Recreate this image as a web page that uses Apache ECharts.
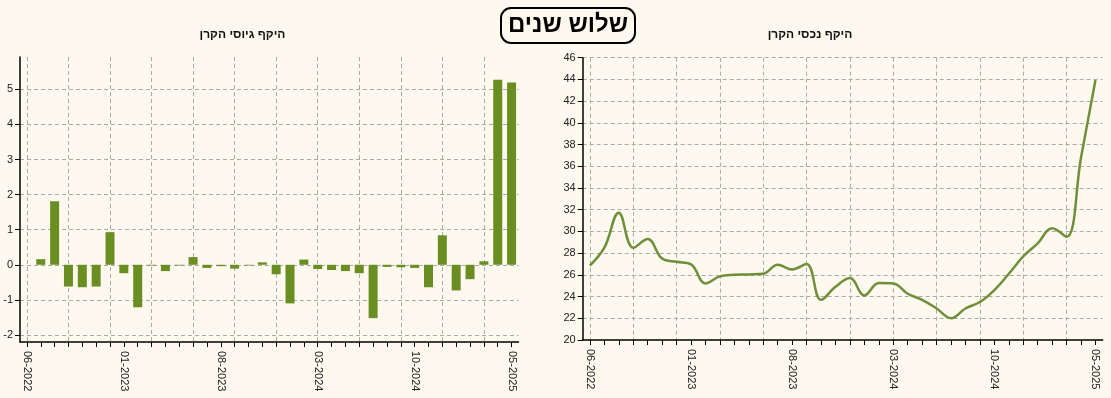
<!DOCTYPE html>
<html>
<head>
<meta charset="utf-8">
<script src="https://cdn.jsdelivr.net/npm/echarts@6/dist/echarts.min.js"></script>
<style>
html,body{margin:0;padding:0;background:#fdf9ef;}
#c{width:1111px;height:398px;}
</style>
</head>
<body>
<div id="c"></div>
<script>
const months = ['06-2022','07-2022','08-2022','09-2022','10-2022','11-2022','12-2022',
  '01-2023','02-2023','03-2023','04-2023','05-2023','06-2023','07-2023',
  '08-2023','09-2023','10-2023','11-2023','12-2023','01-2024','02-2024',
  '03-2024','04-2024','05-2024','06-2024','07-2024','08-2024','09-2024',
  '10-2024','11-2024','12-2024','01-2025','02-2025','03-2025','04-2025','05-2025'];

const raisingValues = [null, 0.16, 1.81, -0.62, -0.64, -0.62, 0.93,
  -0.24, -1.21, -0.02, -0.18, -0.02, 0.22, -0.09,
  -0.04, -0.11, -0.02, 0.07, -0.27, -1.10, 0.15,
  -0.12, -0.15, -0.18, -0.24, -1.52, -0.06, -0.07,
  -0.09, -0.64, 0.84, -0.73, -0.41, 0.10, 5.27, 5.19];

const assetValues = [26.86, 28.5, 31.73, 28.5, 29.3, 27.5, 27.2,
  26.96, 25.2, 25.86, 26.0, 26.04, 26.1, 26.93,
  26.5, 27.0, 23.7, 24.9, 25.7, 24.1, 25.24,
  25.2, 24.26, 23.7, 22.9, 22.0, 22.9, 23.5,
  24.6, 26.1, 27.7, 28.9, 30.3, 29.5, 36.8, 43.95];

const mainTitle = 'שלוש שנים';
const leftTitle = 'היקף גיוסי הקרן';
const rightTitle = 'היקף נכסי הקרן';

const FONT = '"Liberation Sans", Arial, sans-serif';
const olive = '#6b8e23';
const gridLine = {show: true, lineStyle: {color: '#aaaaaa', type: [4, 3], width: 1}};

function xAxisCfg(gridIndex) {
  return {
    type: 'category', gridIndex: gridIndex, data: months, boundaryGap: true,
    axisLine: {show: true, onZero: false, lineStyle: {color: '#000', width: 1.5}},
    axisTick: {show: true, interval: 0, alignWithLabel: true, length: 5, lineStyle: {color: '#000', width: 1}},
    axisLabel: {interval: 6, rotate: -90, margin: 9, fontSize: 11, color: '#222', fontFamily: FONT},
    splitLine: Object.assign({interval: 2, alignWithLabel: true}, gridLine)
  };
}

const chart = echarts.init(document.getElementById('c'), null, {renderer: 'canvas'});
chart.setOption({
  backgroundColor: '#fdf9ef',
  animation: false,
  title: [
    {text: mainTitle, left: 501, top: 8,
     padding: [4, 7, 4, 7], borderColor: '#000', borderWidth: 2, borderRadius: 10,
     textStyle: {fontSize: 24, fontWeight: 'bold', color: '#000', fontFamily: FONT, lineHeight: 27}},
    {text: leftTitle, left: 242.5, top: 27, textAlign: 'center', padding: 0,
     textStyle: {fontSize: 12, fontWeight: 'bold', color: '#111', fontFamily: FONT, lineHeight: 16}},
    {text: rightTitle, left: 810, top: 27, textAlign: 'center', padding: 0,
     textStyle: {fontSize: 12, fontWeight: 'bold', color: '#111', fontFamily: FONT, lineHeight: 16}}
  ],
  grid: [
    {left: 20, top: 57, width: 498.5, height: 285, containLabel: false},
    {left: 582.7, top: 57.7, width: 520, height: 282.3, containLabel: false}
  ],
  xAxis: [xAxisCfg(0), xAxisCfg(1)],
  yAxis: [
    {type: 'value', gridIndex: 0, min: -2.2, max: 5.92, splitNumber: 8,
     axisLine: {show: true, lineStyle: {color: '#000', width: 1.5}},
     axisTick: {show: true, length: 5, lineStyle: {color: '#000'}},
     axisLabel: {showMinLabel: false, showMaxLabel: false, margin: 7, fontSize: 11, color: '#222', fontFamily: FONT},
     splitLine: Object.assign({showMinLine: false, showMaxLine: false}, gridLine)},
    {type: 'value', gridIndex: 1, min: 20, max: 46, interval: 2,
     axisLine: {show: true, lineStyle: {color: '#000', width: 1.5}},
     axisTick: {show: true, length: 5, lineStyle: {color: '#000'}},
     axisLabel: {margin: 7, fontSize: 11, color: '#222', fontFamily: FONT},
     splitLine: Object.assign({showMinLine: false}, gridLine)}
  ],
  series: [
    {type: 'bar', xAxisIndex: 0, yAxisIndex: 0, data: raisingValues, barWidth: 9,
     itemStyle: {color: olive}},
    {type: 'line', xAxisIndex: 1, yAxisIndex: 1, data: assetValues, smooth: 0.4,
     showSymbol: false, symbol: 'none', lineStyle: {color: '#6f8f3a', width: 2.5}}
  ]
});
</script>
</body>
</html>
